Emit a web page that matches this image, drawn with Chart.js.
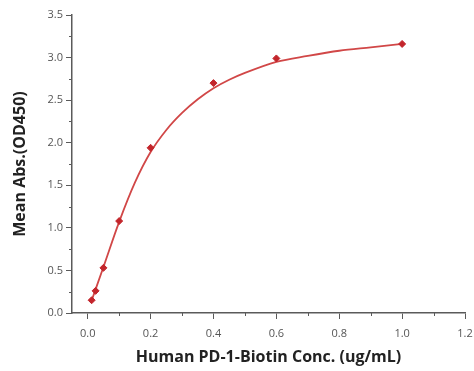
<!DOCTYPE html>
<html>
<head>
<meta charset="utf-8">
<script src="https://cdn.jsdelivr.net/npm/chart.js@4/dist/chart.umd.min.js"></script>
<style>
  html, body { margin: 0; padding: 0; background: #fff; }
  #wrap { width: 474px; height: 371px; }
</style>
</head>
<body>
<div id="wrap"><canvas id="chart" width="474" height="371"></canvas></div>
<script>
// measured points
const concentrations = [0.0125, 0.025, 0.05, 0.1, 0.2, 0.4, 0.6, 1.0];
const meanAbs = [0.15, 0.26, 0.53, 1.08, 1.94, 2.70, 2.99, 3.16];

// fitted curve
const fitX = [0.01, 0.05, 0.1, 0.15, 0.2, 0.25, 0.3, 0.35, 0.4, 0.45, 0.5, 0.6, 0.7, 0.8, 0.9, 1.0];
const fitY = [0.12, 0.54, 1.07, 1.53, 1.89, 2.15, 2.35, 2.51, 2.64, 2.74, 2.82, 2.95, 3.02, 3.08, 3.12, 3.16];

// axis ticks
const xTickLabels = [0, 0.2, 0.4, 0.6, 0.8, 1.0, 1.2];
const yTickLabels = [0, 0.5, 1.0, 1.5, 2.0, 2.5, 3.0, 3.5];

const axisColor = '#5a5a5a';
const font = '"Open Sans", Lato, sans-serif';

const toPoints = (xs, ys) => xs.map((x, i) => ({ x, y: ys[i] }));

// small outward ticks halfway between the labelled ones
const minorTicks = {
  id: 'minorTicks',
  afterDraw(chart) {
    const { ctx } = chart;
    ctx.save();
    ctx.strokeStyle = axisColor;
    ctx.lineWidth = 1;
    const xs = chart.scales.x;
    const ys = chart.scales.y;
    for (let i = 0; i < xTickLabels.length - 1; i++) {
      const px = Math.round(xs.getPixelForValue((xTickLabels[i] + xTickLabels[i + 1]) / 2)) + 0.5;
      ctx.beginPath();
      ctx.moveTo(px, xs.top);
      ctx.lineTo(px, xs.top + 3);
      ctx.stroke();
    }
    for (let i = 0; i < yTickLabels.length - 1; i++) {
      const py = Math.round(ys.getPixelForValue((yTickLabels[i] + yTickLabels[i + 1]) / 2)) + 0.5;
      ctx.beginPath();
      ctx.moveTo(ys.right, py);
      ctx.lineTo(ys.right - 3, py);
      ctx.stroke();
    }
    ctx.restore();
  },
};

new Chart(document.getElementById('chart'), {
  type: 'scatter',
  data: {
    datasets: [
      {
        type: 'line',
        data: toPoints(fitX, fitY),
        borderColor: '#d14747',
        borderWidth: 1.8,
        pointRadius: 0,
        cubicInterpolationMode: 'monotone',
        fill: false,
        order: 2,
      },
      {
        data: toPoints(concentrations, meanAbs),
        backgroundColor: '#c3252b',
        borderColor: '#c3252b',
        pointStyle: 'rectRot',
        pointRadius: 3.5,
        borderWidth: 1,
        order: 1,
      },
    ],
  },
  options: {
    responsive: false,
    animation: false,
    layout: { padding: { top: 15, right: 9, left: 0, bottom: 0 } },
    plugins: { legend: { display: false }, tooltip: { enabled: false } },
    scales: {
      x: {
        type: 'linear',
        min: -0.05,
        max: 1.2,
        afterBuildTicks: (scale) => { scale.ticks = xTickLabels.map((v) => ({ value: v })); },
        afterFit: (scale) => {
          scale.height = 58;
          scale.paddingLeft = 0;
          scale.paddingRight = 8;
        },
        grid: { drawOnChartArea: false, tickLength: 6, color: axisColor, tickWidth: 1 },
        border: { display: true, color: axisColor, width: 1.5 },
        ticks: {
          color: '#555',
          font: { family: font, size: 11 },
          padding: 8,
          maxRotation: 0,
          callback: (v) => v.toFixed(1),
        },
        title: {
          display: true,
          text: 'Human PD-1-Biotin Conc. (ug/mL)',
          color: '#222',
          font: { family: font, size: 16, weight: 'bold' },
          padding: { top: 2 },
        },
      },
      y: {
        type: 'linear',
        min: 0,
        max: 3.5,
        afterBuildTicks: (scale) => { scale.ticks = yTickLabels.map((v) => ({ value: v })); },
        afterFit: (scale) => { scale.width = 72; },
        grid: { drawOnChartArea: false, tickLength: 6, color: axisColor, tickWidth: 1 },
        border: { display: true, color: axisColor, width: 1.5 },
        ticks: {
          color: '#555',
          font: { family: font, size: 11 },
          padding: 3,
          callback: (v) => v.toFixed(1),
        },
        title: {
          display: true,
          text: 'Mean Abs.(OD450)',
          color: '#222',
          font: { family: font, size: 16, weight: 'bold' },
          padding: { top: 11 },
        },
      },
    },
  },
  plugins: [minorTicks],
});
</script>
</body>
</html>
